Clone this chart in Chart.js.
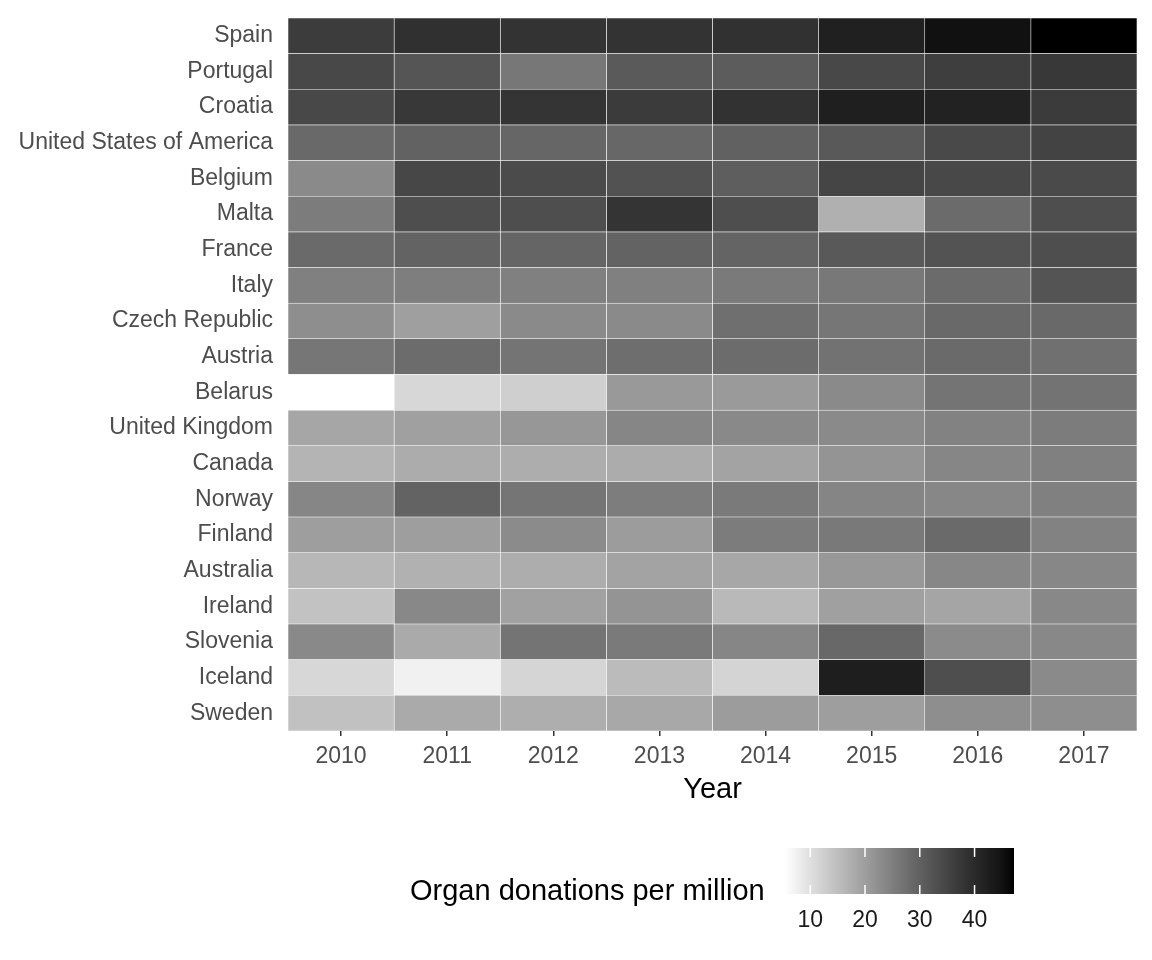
<!DOCTYPE html>
<html>
<head>
<meta charset="utf-8">
<script src="https://cdn.jsdelivr.net/npm/chart.js@4"></script>
<style>
  body { margin: 0; background: #fff; width: 1152px; height: 960px; position: relative; overflow: hidden; }
  canvas { position: absolute; }
  #main { left: 0; top: 0; }
  #scale { left: 760px; top: 830px; }
  #legendTitle {
    position: absolute; left: 410px; top: 873px; line-height: 34px;
    font-family: "Liberation Sans", Arial, sans-serif; font-size: 29px; color: #000; white-space: nowrap;
  }
</style>
</head>
<body>
<canvas id="main" width="1152" height="820"></canvas>
<canvas id="scale" width="280" height="110"></canvas>
<div id="legendTitle">Organ donations per million</div>
<script>
const years = [2010, 2011, 2012, 2013, 2014, 2015, 2016, 2017];
const countries = ['Spain', 'Portugal', 'Croatia', 'United States of America', 'Belgium', 'Malta',
  'France', 'Italy', 'Czech Republic', 'Austria', 'Belarus', 'United Kingdom', 'Canada', 'Norway',
  'Finland', 'Australia', 'Ireland', 'Slovenia', 'Iceland', 'Sweden'];

// donations per million, one array per year, same order as countries
const v2010 = [36.6, 34.4, 34.4, 28.6, 23.2, 25.5, 28.5, 24.8, 22.5, 26.5, 5.4, 18.7, 16.6, 23.8, 20.0, 16.1, 14.4, 23.3, 11.3, 14.6];
const v2011 = [38.9, 32.1, 37.4, 29.8, 34.6, 33.3, 29.6, 25.1, 19.8, 28.1, 11.3, 19.7, 17.8, 29.6, 20.0, 17.0, 23.5, 18.1, 7.4, 18.1];
const v2012 = [38.3, 26.3, 38.1, 29.1, 33.9, 33.3, 29.3, 24.8, 23.2, 26.8, 12.5, 21.1, 17.6, 26.6, 23.0, 17.6, 19.5, 26.8, 11.5, 17.5];
const v2013 = [38.3, 31.2, 36.8, 29.0, 32.6, 38.1, 29.6, 24.8, 23.2, 27.8, 20.8, 23.8, 17.8, 25.3, 20.3, 19.2, 21.6, 25.8, 15.5, 18.4];
const v2014 = [38.7, 30.9, 38.5, 30.0, 30.5, 33.3, 29.5, 25.8, 27.6, 28.1, 20.6, 23.3, 19.2, 25.8, 25.5, 18.6, 15.8, 23.8, 11.7, 20.3];
const v2015 = [42.1, 34.4, 42.3, 31.4, 34.9, 17.2, 31.4, 26.1, 26.5, 27.1, 23.2, 23.2, 21.6, 24.0, 26.0, 20.9, 19.7, 28.8, 42.5, 20.0];
const v2016 = [45.1, 36.2, 41.7, 34.2, 34.4, 28.3, 32.4, 28.3, 28.6, 28.5, 26.8, 24.5, 23.8, 23.7, 28.5, 23.7, 18.9, 23.0, 33.3, 22.5];
const v2017 = [47.2, 37.4, 36.8, 35.3, 34.0, 33.3, 33.3, 32.3, 28.6, 27.5, 27.0, 25.5, 24.8, 24.8, 24.5, 23.7, 23.5, 23.5, 23.2, 22.5];
const yearValues = [v2010, v2011, v2012, v2013, v2014, v2015, v2016, v2017];

const legendTicks = [10, 20, 30, 40];

const allValues = yearValues.flat();
const lo = Math.min(...allValues);
const hi = Math.max(...allValues);

// white -> black, linear in CIELAB lightness (like ggplot's gradient)
function grey(v) {
  const t = Math.min(1, Math.max(0, (v - lo) / (hi - lo)));
  const L = 100 * (1 - t);
  const Y = L > 8 ? Math.pow((L + 16) / 116, 3) : L / 903.3;
  const s = Y <= 0.0031308 ? 12.92 * Y : 1.055 * Math.pow(Y, 1 / 2.4) - 0.055;
  const g = Math.round(Math.max(0, Math.min(1, s)) * 255);
  return `rgb(${g},${g},${g})`;
}

Chart.defaults.font.family = '"Liberation Sans", Arial, sans-serif';
Chart.defaults.animation = false;

new Chart(document.getElementById('main'), {
  type: 'bar',
  data: {
    labels: countries,
    datasets: years.map((yr, i) => ({
      label: String(yr),
      data: countries.map(() => [yr - 0.5, yr + 0.5]),
      backgroundColor: yearValues[i].map(grey),
      borderColor: 'rgba(255,255,255,0.85)',
      borderWidth: 0.6,
      borderSkipped: false,
      grouped: false,
      barPercentage: 1,
      categoryPercentage: 1
    }))
  },
  options: {
    indexAxis: 'y',
    responsive: false,
    layout: { padding: { top: 18, right: 15, left: 0, bottom: 0 } },
    plugins: { legend: { display: false }, tooltip: { enabled: false } },
    scales: {
      x: {
        type: 'linear',
        min: 2009.5,
        max: 2017.5,
        afterBuildTicks: s => { s.ticks = years.map(v => ({ value: v })); },
        afterFit: s => { s.height = 89; s.paddingLeft = 0; s.paddingRight = 0; },
        grid: { drawOnChartArea: false, color: '#333', lineWidth: 1.5, tickLength: 5 },
        border: { display: false },
        ticks: { color: '#4d4d4d', font: { size: 23 }, padding: 7, callback: v => String(v) },
        title: { display: true, text: 'Year', color: '#000', font: { size: 29 }, padding: { top: 0, bottom: 13 } }
      },
      y: {
        afterFit: s => { s.width = 288; s.paddingTop = 0; s.paddingBottom = 0; },
        grid: { display: false },
        border: { display: false },
        ticks: { color: '#4d4d4d', font: { size: 23 }, padding: 7 }
      }
    }
  }
});

// colour bar for the legend
const tickMarks = {
  id: 'tickMarks',
  afterDatasetsDraw(chart) {
    const { ctx, chartArea, scales } = chart;
    ctx.save();
    ctx.strokeStyle = '#fff';
    ctx.lineWidth = 1.5;
    legendTicks.forEach(t => {
      const x = scales.x.getPixelForValue(t);
      ctx.beginPath();
      ctx.moveTo(x, chartArea.top);
      ctx.lineTo(x, chartArea.top + 9);
      ctx.moveTo(x, chartArea.bottom - 9);
      ctx.lineTo(x, chartArea.bottom);
      ctx.stroke();
    });
    ctx.restore();
  }
};

new Chart(document.getElementById('scale'), {
  type: 'bar',
  data: {
    labels: ['scale'],
    datasets: [{
      data: [[lo, hi]],
      backgroundColor: ctx => {
        const chart = ctx.chart;
        if (!chart.chartArea) return '#888';
        const x0 = chart.scales.x.getPixelForValue(lo);
        const x1 = chart.scales.x.getPixelForValue(hi);
        const grad = chart.ctx.createLinearGradient(x0, 0, x1, 0);
        for (let k = 0; k <= 40; k++) {
          grad.addColorStop(k / 40, grey(lo + (hi - lo) * k / 40));
        }
        return grad;
      },
      borderWidth: 0,
      barPercentage: 1,
      categoryPercentage: 1
    }]
  },
  options: {
    indexAxis: 'y',
    responsive: false,
    layout: { padding: { top: 18, left: 25, right: 26, bottom: 0 } },
    plugins: { legend: { display: false }, tooltip: { enabled: false } },
    scales: {
      x: {
        type: 'linear',
        min: lo,
        max: hi,
        afterBuildTicks: s => { s.ticks = legendTicks.map(v => ({ value: v })); },
        afterFit: s => { s.height = 46; },
        grid: { display: false },
        border: { display: false },
        ticks: { color: '#1a1a1a', font: { size: 23 }, padding: 5 }
      },
      y: { display: false }
    }
  },
  plugins: [tickMarks]
});
</script>
</body>
</html>
